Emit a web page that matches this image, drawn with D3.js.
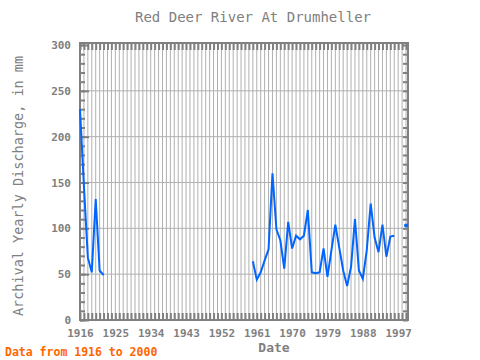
<!DOCTYPE html>
<html>
<head>
<meta charset="utf-8">
<script src="https://cdn.jsdelivr.net/npm/d3@7"></script>
<style>
  body { margin: 0; background: #fff; }
  text { font-family: "DejaVu Sans Mono", monospace; }
</style>
</head>
<body>
<svg width="480" height="360"></svg>
<script>
const years = [1916, 1917, 1918, 1919, 1920, 1921, 1922,
  1960, 1961, 1962, 1963, 1964, 1965, 1966, 1967, 1968, 1969,
  1970, 1971, 1972, 1973, 1974, 1975, 1976, 1977, 1978, 1979,
  1980, 1981, 1982, 1983, 1984, 1985, 1986, 1987, 1988, 1989,
  1990, 1991, 1992, 1993, 1994, 1995, 1996, 1999]
const discharge = [230, 146, 68, 52, 132, 54, 49,
  64, 44, 52, 65, 77, 160, 99, 87, 56, 107,
  78, 92, 88, 92, 120, 52, 51, 52, 78, 47,
  76, 104, 79, 54, 37, 58, 110, 54, 45, 76,
  127, 90, 74, 104, 69, 91, 92, 103]
const xLabels = [1916, 1925, 1934, 1943, 1952, 1961, 1970, 1979, 1988, 1997]
const yLabels = [0, 50, 100, 150, 200, 250, 300]

const plot = {left: 80, right: 408, top: 43, bottom: 320},
  axisColor = '#808080',
  gridColor = '#b0b0b0',
  lineColor = '#0066ff'

const svg = d3.select('svg')

const x = d3.scaleLinear().domain([1916, 1999.5]).range([plot.left, plot.right])
const y = d3.scaleLinear().domain([0, 300]).range([plot.bottom, plot.top + 2])

const allYears = d3.range(1916, 2000)
const minorY = d3.range(0, 301, 10)

// grid
const grid = svg.append('g')
grid.selectAll('.vgrid')
  .data(allYears.slice(1))
  .enter().append('line')
  .attr('x1', d => x(d)).attr('x2', d => x(d))
  .attr('y1', plot.top).attr('y2', plot.bottom)
  .attr('stroke', gridColor).attr('stroke-width', 1)
grid.selectAll('.hgrid')
  .data(yLabels.slice(1, -1))
  .enter().append('line')
  .attr('x1', plot.left).attr('x2', plot.right)
  .attr('y1', d => y(d)).attr('y2', d => y(d))
  .attr('stroke', gridColor).attr('stroke-width', 1)

function styleAxis(g) {
  g.select('.domain').remove()
  g.selectAll('.tick line').attr('stroke', axisColor).attr('stroke-width', 2)
  g.selectAll('.tick text')
    .attr('fill', axisColor)
    .style('font-size', '11px')
    .style('font-weight', 'bold')
}

// bottom axis: tick each year, labels every 9 years
svg.append('g')
  .attr('transform', `translate(0,${plot.bottom})`)
  .call(d3.axisBottom(x).tickValues(allYears).tickSize(-7).tickPadding(9)
    .tickFormat(d => xLabels.includes(d) ? d : ''))
  .call(styleAxis)

// top axis
svg.append('g')
  .attr('transform', `translate(0,${plot.top})`)
  .call(d3.axisTop(x).tickValues(allYears).tickSize(-7).tickFormat(''))
  .call(styleAxis)

// left axis minor + major
svg.append('g')
  .attr('transform', `translate(${plot.left},0)`)
  .call(d3.axisLeft(y).tickValues(minorY).tickSize(-5).tickFormat(''))
  .call(styleAxis)
svg.append('g')
  .attr('transform', `translate(${plot.left},0)`)
  .call(d3.axisLeft(y).tickValues(yLabels).tickSize(-9).tickPadding(9))
  .call(styleAxis)

// right axis minor
svg.append('g')
  .attr('transform', `translate(${plot.right},0)`)
  .call(d3.axisRight(y).tickValues(minorY).tickSize(-5).tickFormat(''))
  .call(styleAxis)

// frame
svg.append('rect')
  .attr('x', plot.left).attr('y', plot.top)
  .attr('width', plot.right - plot.left).attr('height', plot.bottom - plot.top)
  .attr('fill', 'none').attr('stroke', axisColor).attr('stroke-width', 2)

// split into runs of consecutive years
const points = years.map((d, i) => ({year: d, value: discharge[i]}))
const runs = []
points.forEach((p, i) => {
  if (i === 0 || p.year - points[i - 1].year > 1) runs.push([])
  runs[runs.length - 1].push(p)
})

const line = d3.line().x(d => x(d.year)).y(d => y(d.value))

svg.append('g').selectAll('path')
  .data(runs.filter(r => r.length > 1))
  .enter().append('path')
  .attr('d', line)
  .attr('fill', 'none')
  .attr('stroke', lineColor)
  .attr('stroke-width', 2)

svg.append('g').selectAll('circle')
  .data(runs.filter(r => r.length === 1).map(r => r[0]))
  .enter().append('circle')
  .attr('cx', d => x(d.year)).attr('cy', d => y(d.value))
  .attr('r', 2)
  .attr('fill', lineColor)

// texts
svg.append('text')
  .attr('x', 253).attr('y', 22)
  .attr('text-anchor', 'middle')
  .attr('fill', axisColor)
  .style('font-size', '14px')
  .text('Red Deer River At Drumheller')

svg.append('text')
  .attr('x', 274).attr('y', 352)
  .attr('text-anchor', 'middle')
  .attr('fill', axisColor)
  .style('font-size', '13px')
  .style('font-weight', 'bold')
  .text('Date')

svg.append('text')
  .attr('transform', 'translate(23,186) rotate(-90)')
  .attr('text-anchor', 'middle')
  .attr('fill', axisColor)
  .style('font-size', '13.5px')
  .text('Archival Yearly Discharge, in mm')

svg.append('text')
  .attr('x', 5).attr('y', 356)
  .attr('fill', '#ff6600')
  .style('font-size', '11.5px')
  .style('font-weight', 'bold')
  .text('Data from 1916 to 2000')
</script>
</body>
</html>
